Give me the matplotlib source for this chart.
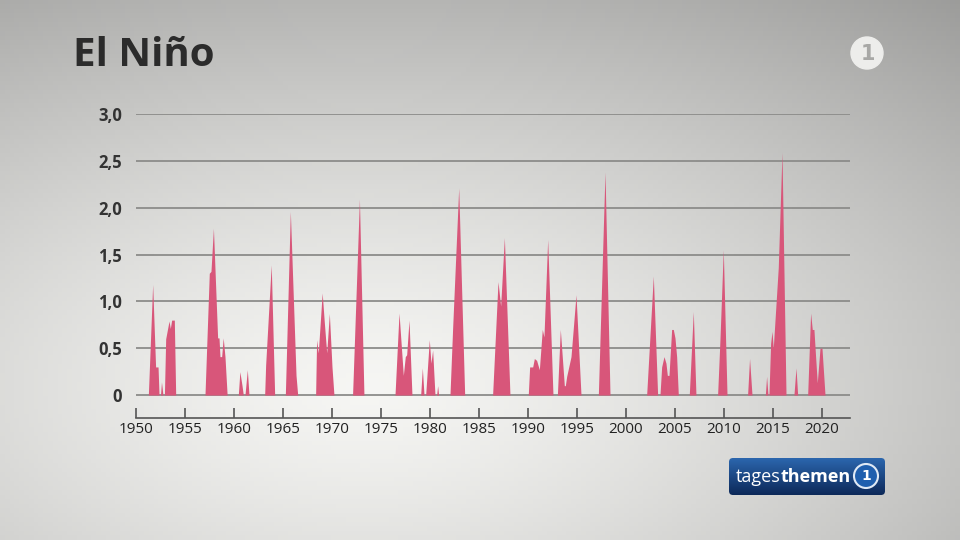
import matplotlib.pyplot as plt
import numpy as np
from matplotlib.patches import FancyBboxPatch, Circle

# ONI values above zero (year, value)
nino_year = [
    1951.26, 1951.7, 1952.0, 1952.25, 1952.35, 1952.5, 1952.6, 1952.75, 1952.9, 1953.03,
    1953.37, 1953.5, 1953.64, 1953.91, 1954.05,
    1957.04, 1957.48, 1957.65, 1957.9, 1958.33, 1958.47, 1958.57, 1958.74, 1958.9, 1959.08, 1959.3,
    1960.44, 1960.6, 1960.82, 1960.95, 1961.12, 1961.36, 1961.53,
    1963.13, 1963.23, 1963.8, 1964.15,
    1965.24, 1965.75, 1966.33, 1966.5,
    1968.33, 1968.43, 1968.6, 1969.0, 1969.2, 1969.46, 1969.73, 1970.0, 1970.2,
    1972.1, 1972.8, 1973.26,
    1976.43, 1976.84, 1977.28, 1977.48, 1977.62, 1977.86, 1978.16,
    1979.05, 1979.22, 1979.39, 1979.56, 1979.93, 1980.1, 1980.27, 1980.51,
    1980.68, 1980.78, 1980.88,
    1982.04, 1982.31, 1982.93, 1983.54,
    1986.39, 1986.94, 1987.21, 1987.59, 1988.16,
    1990.03, 1990.17, 1990.48, 1990.65, 1990.88, 1991.16, 1991.46, 1991.63, 1992.01, 1992.55,
    1993.0, 1993.3, 1993.71, 1993.81, 1993.95, 1994.39, 1994.9, 1995.41,
    1997.18, 1997.86, 1998.37,
    2002.11, 2002.79, 2003.23,
    2003.47, 2003.64, 2003.88, 2004.08, 2004.22, 2004.39, 2004.66, 2004.83, 2005.0, 2005.17, 2005.34,
    2006.46, 2006.87, 2007.14,
    2009.35, 2009.59, 2009.93, 2010.31,
    2012.41, 2012.61, 2012.86,
    2014.22, 2014.35, 2014.49,
    2014.59, 2014.76, 2014.9, 2015.03, 2015.54, 2015.92, 2016.33,
    2017.14, 2017.35, 2017.52,
    2018.54, 2018.84, 2019.01, 2019.18, 2019.35, 2019.52, 2019.8, 2020.0, 2020.31,
]
nino_val = [
    0, 1.18, 0.30, 0.30, 0, 0, 0.14, 0, 0, 0.60,
    0.79, 0.71, 0.80, 0.80, 0,
    0, 1.30, 1.32, 1.78, 0.61, 0.61, 0.41, 0.41, 0.61, 0.41, 0,
    0, 0.25, 0.10, 0, 0, 0.27, 0,
    0, 0.32, 1.39, 0,
    0, 1.96, 0.21, 0,
    0, 0.59, 0.45, 1.09, 0.80, 0.45, 0.87, 0.30, 0,
    0, 2.09, 0,
    0, 0.875, 0.21, 0.41, 0.43, 0.80, 0,
    0, 0.29, 0, 0, 0.59, 0.34, 0.48, 0,
    0, 0.10, 0,
    0, 0.71, 2.21, 0,
    0, 1.21, 0.95, 1.68, 0,
    0, 0.30, 0.30, 0.39, 0.37, 0.27, 0.70, 0.62, 1.66, 0,
    0, 0.70, 0.10, 0.10, 0.20, 0.41, 1.07, 0,
    0, 2.38, 0,
    0, 1.27, 0,
    0, 0.30, 0.41, 0.34, 0.21, 0.21, 0.70, 0.70, 0.61, 0.41, 0,
    0, 0.89, 0,
    0, 0.59, 1.55, 0,
    0, 0.39, 0,
    0, 0.20, 0,
    0, 0.55, 0.68, 0.50, 1.36, 2.59, 0,
    0, 0.29, 0,
    0, 0.875, 0.70, 0.70, 0.41, 0.13, 0.50, 0.50, 0,
]

y_ticks = [0, 0.5, 1.0, 1.5, 2.0, 2.5, 3.0]
y_labels = ["0", "0,5", "1,0", "1,5", "2,0", "2,5", "3,0"]
x_ticks = list(range(1950, 2021, 5))

W, H = 960, 540
fig = plt.figure(figsize=(9.6, 5.4), dpi=100)

# background in pixel coordinates
bg = fig.add_axes([0, 0, 1, 1])
xx, yy = np.meshgrid(np.linspace(0, 1, 200), np.linspace(0, 1, 120))
d = np.sqrt(((xx - 0.38) / 0.85) ** 2 + ((yy - 0.72) / 0.8) ** 2)
b = np.clip(0.965 - 0.29 * d ** 1.3, 0, 1)
rgb = np.dstack([b, b, b * 0.99])
bg.imshow(rgb, extent=[0, W, H, 0], aspect="auto", origin="upper")
bg.set_xlim(0, W)
bg.set_ylim(H, 0)
bg.axis("off")

ax = fig.add_axes([136 / W, 1 - 418 / H, (850 - 136) / W, (418 - 114) / H])
ax.patch.set_alpha(0)
ax.fill_between(nino_year, nino_val, 0, color="#d8567a", lw=0, zorder=3)
ax.set_xlim(1950, 2022.86)
ax.set_ylim(-0.245, 3.0)
for v in y_ticks:
    ax.axhline(v, color="#8c8c8a", lw=1.3, zorder=1)
ax.set_yticks(y_ticks)
ax.set_yticklabels(y_labels, fontfamily="Open Sans", fontweight="bold",
                   fontsize=12, color="#333333")
ax.tick_params(axis="y", length=0, pad=10)
ax.set_xticks(x_ticks)
ax.set_xticklabels([str(t) for t in x_ticks], fontfamily="Open Sans",
                   fontsize=11, color="#222222")
ax.tick_params(axis="x", direction="in", length=7, width=1.2, color="#555555", pad=3)
for s in ["top", "right", "left"]:
    ax.spines[s].set_visible(False)
ax.spines["bottom"].set_color("#555555")
ax.spines["bottom"].set_linewidth(1.2)

# title
bg.text(73, 66, "El Niño", fontfamily="Open Sans", fontweight="bold",
        fontsize=29, color="#2b2b2b", ha="left", va="baseline")

# ARD logo top right
bg.add_patch(Circle((867, 53), 16, color="#ededeb", zorder=5))
bg.text(868, 54, "1", ha="center", va="center",
        fontsize=15, fontweight="bold", color="#a8a8a6", zorder=6)

# tagesthemen badge
badge = FancyBboxPatch((729, 458), 156, 37, boxstyle="round,pad=0,rounding_size=4",
                       facecolor="none", edgecolor="none", zorder=5)
bg.add_patch(badge)
grad = np.linspace(0, 1, 50)[:, None]
cols = np.dstack([0.17 - 0.12 * grad, 0.40 - 0.24 * grad, 0.68 - 0.33 * grad])
im = bg.imshow(cols, extent=[729, 885, 495, 458], aspect="auto", origin="upper", zorder=5)
im.set_clip_path(badge)
t1 = bg.text(736, 477, "tages", ha="left", va="center",
             fontfamily="Open Sans", fontsize=13, color="white", zorder=6)
fig.canvas.draw()
bb = t1.get_window_extent()
x_end = bg.transData.inverted().transform((bb.x1, bb.y0))[0]
bg.text(x_end, 477, "themen", ha="left", va="center",
        fontfamily="Open Sans", fontweight="bold", fontsize=13, color="white", zorder=6)
bg.add_patch(Circle((866, 476), 12, facecolor="#1f5fae", edgecolor="#dfe9f5", lw=1.5, zorder=6))
bg.text(866, 476, "1", ha="center", va="center",
        fontsize=10, fontweight="bold", color="white", zorder=7)

fig.savefig("out.png", dpi=100)
